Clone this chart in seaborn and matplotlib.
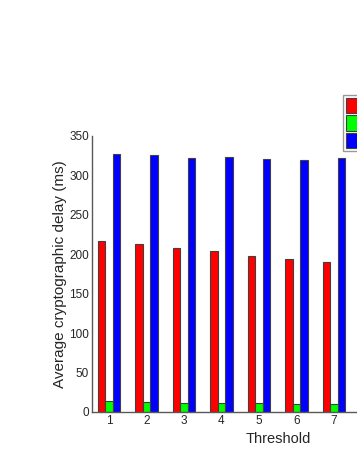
import matplotlib
matplotlib.use("Agg")
import matplotlib.pyplot as plt
import seaborn as sns
import pandas as pd

thresholds = ["1", "2", "3", "4", "5", "6", "7"]
series_names = ["Scheme A", "Scheme B", "Scheme C"]
red_vals = [216.7, 212.5, 208.0, 203.6, 198.3, 194.3, 189.7]
green_vals = [14.0, 12.3, 11.4, 11.0, 11.0, 10.0, 9.7]
blue_vals = [326.6, 325.7, 322.5, 323.0, 321.0, 320.0, 322.5]
colors = ["#ff0000", "#00ff00", "#0000ff"]

rows = []
for name, vals in zip(series_names, [red_vals, green_vals, blue_vals]):
    for t, v in zip(thresholds, vals):
        rows.append({"Threshold": t, "delay": v, "series": name})
df = pd.DataFrame(rows)

sns.set_style("white")
plt.rcParams["font.family"] = ["Liberation Sans", "DejaVu Sans"]

W, H = 357, 462
fig = plt.figure(figsize=(W / 100, H / 100), dpi=100)
left_px, right_px, top_px, bottom_px = 92, 464, 136, 412
ax = fig.add_axes([left_px / W, 1 - bottom_px / H, (right_px - left_px) / W, (bottom_px - top_px) / H])

sns.barplot(data=df, x="Threshold", y="delay", hue="series", order=thresholds,
            hue_order=series_names, palette=colors, width=0.6, edgecolor="0.25",
            linewidth=0.8, ax=ax, errorbar=None, saturation=1)

ax.set_ylim(0, 350)
ax.set_yticks(range(0, 351, 50))
ax.set_xlim(-0.45, 9.47)
ax.set_xlabel("Threshold", fontsize=10.5, labelpad=4)
ax.set_ylabel("Average cryptographic delay (ms)", fontsize=11, labelpad=2)
ax.tick_params(axis="both", direction="in", length=3, labelsize=8.5, color="0.3", pad=2)
for s in ["top", "right"]:
    ax.spines[s].set_visible(False)
for s in ["left", "bottom"]:
    ax.spines[s].set_color("0.35")
    ax.spines[s].set_linewidth(1.0)

ax.legend_.remove()
handles, labels = ax.get_legend_handles_labels()
leg = fig.legend(handles, ["", "", ""], loc="upper left", bbox_to_anchor=(343 / W, 1 - 95 / H),
                 fontsize=9, handleheight=1.5, handlelength=2.5, labelspacing=0.2,
                 borderpad=0.2, handletextpad=0.5, fancybox=False, frameon=True,
                 borderaxespad=0)
leg.get_frame().set_edgecolor("0.5")
leg.get_frame().set_linewidth(1.0)

fig.savefig("out.png", dpi=100)
